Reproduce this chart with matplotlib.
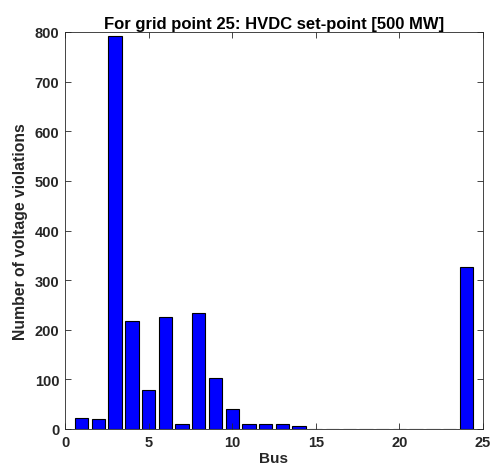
import numpy as np
import matplotlib.pyplot as plt

plt.rcParams['font.family'] = ['Liberation Sans', 'DejaVu Sans']
plt.rcParams['font.weight'] = 'bold'

bus = np.arange(1, 25)
violations = [22, 21, 792, 218, 79, 225, 11, 233, 103, 40, 10, 11, 11, 6,
              0, 0, 0, 0, 0, 0, 0, 0, 0, 327]

dark = '#262626'
fig = plt.figure(figsize=(4.95, 4.77), dpi=100)
ax = fig.add_axes([65/495, 1 - 430/477, (483-65)/495, (430-33)/477])

ax.bar(bus, violations, width=0.8, color='#0000ff', edgecolor='black', linewidth=0.8)

ax.set_xlim(0, 25)
ax.set_ylim(0, 800)
ax.set_xticks([0, 5, 10, 15, 20, 25])
ax.set_yticks(np.arange(0, 801, 100))
ax.tick_params(direction='in', top=True, right=True, labelsize=10.5, length=4,
               width=0.6, pad=4, colors=dark)
for lab in ax.get_xticklabels() + ax.get_yticklabels():
    lab.set_fontweight('bold')
for s in ax.spines.values():
    s.set_linewidth(0.6)
    s.set_color(dark)

ax.set_xlabel('Bus', fontsize=11, fontweight='bold', labelpad=2, color=dark)
ax.set_ylabel('Number of voltage violations', fontsize=11.3, fontweight='bold', labelpad=5, color=dark)
ax.set_title('For grid point 25: HVDC set-point [500 MW]', fontsize=12, fontweight='bold', pad=3)

fig.savefig('out.png', dpi=100)
